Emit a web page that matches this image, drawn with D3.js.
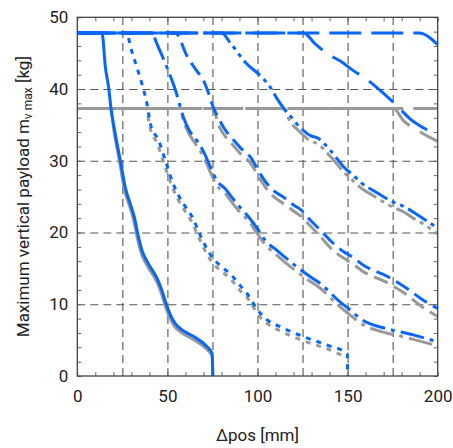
<!DOCTYPE html>
<html><head><meta charset="utf-8">
<script src="https://cdn.jsdelivr.net/npm/d3@7"></script>
<style>
html,body{margin:0;padding:0;background:#fff;}
svg{display:block;font-family:Roboto,"Noto Sans",sans-serif;}
</style></head>
<body>
<svg id="c" width="453" height="448"></svg>
<script>
// ---- data (Δpos [mm], payload [kg]) ----
const xTickLabels = [0, 50, 100, 150, 200];
const yTickLabels = [0, 10, 20, 30, 40, 50];
const xGrid = [25, 50, 75, 100, 125, 150, 175];
const yGrid = [10, 20, 30, 40];

const blueA = [[0,47.8],[13.7,47.8],[15.6,43],[17.4,40.2],[18.7,37.3],[21.1,33.7],[23.9,30],[26.7,26.2],[29.4,24],[31.7,22.1],[33.5,19.9],[35.9,17.5],[39.6,15.6],[44.3,13.6],[47,11.9],[49.4,9.95],[51.7,8.5],[54.4,7.3],[57.2,6.6],[64.6,5.5],[71.1,4.3],[74.8,3.15],[75.2,0]];
const grayA = [[0,37.3],[18.3,37.3],[20.7,33.6],[23.5,29.8],[26.3,25.8],[29,23.7],[31.3,21.7],[33.1,19.5],[35.5,17.1],[39.2,15.2],[44,13.2],[46.7,11.5],[49,9.6],[51.3,8.1],[54,6.9],[57,6.2],[64.3,5.1],[71,3.9],[74.8,2.8],[75.2,0]];

const blueB = [[0,47.8],[27.6,47.8],[29.4,46],[33.1,43],[35.9,40.7],[38.7,37.9],[40.6,35.1],[45.2,32.8],[48.9,30],[52.6,27.2],[56.3,25.1],[60,23.6],[63.7,22.2],[68.3,19.6],[72,17.7],[75.7,16.3],[80.3,15.2],[85.8,14],[90.4,12.6],[94.2,11.5],[98,10],[101.7,8.7],[106,7.7],[112.8,6.85],[125.7,5.46],[138.7,4.3],[149.8,3.1],[150,0]];
const grayB = [[0,37.3],[38.3,37.3],[40,35],[44.5,32.3],[48.3,29.5],[52,26.8],[55.7,24.7],[59.5,23.1],[63,21.7],[68,19],[71.5,17.2],[75,15.8],[80,14.6],[85.5,13.4],[90,12],[94,11],[98,9.5],[101.5,8.2],[106,7.2],[112.5,6.3],[125.5,4.9],[138.5,3.8],[149.5,2.6]];

const blueC = [[0,47.8],[41.5,47.8],[44,46.4],[49.8,43],[54.4,39.9],[59,36],[62,34.3],[66.4,32.8],[70.2,31.2],[73.9,29.1],[77.5,27.2],[82.1,26.1],[85.8,24.9],[90.4,23.5],[95,22.2],[100.6,20.3],[104.3,18.9],[110.8,17.5],[121.9,15.2],[128.3,14],[134.8,12.9],[145.9,10.3],[151.5,9.2],[157,8],[171.7,6.6],[179.4,6.15],[186.8,5.7],[200,4.75]];
const grayC = [[0,37.3],[57,37.3],[59,35.5],[62,33.8],[66,32.2],[70,30.6],[73.5,28.6],[77,26.7],[82,25.5],[85.5,24.3],[90,22.9],[95,21.6],[100,19.8],[104,18.4],[110.5,16.9],[121.5,14.6],[128,13.4],[134.5,12.3],[145.5,9.7],[151,8.6],[157,7.4],[171.5,6],[179,5.6],[186.5,5.1],[200,4.2]];

const blueD = [[0,47.8],[54.4,47.8],[60.9,44.6],[65.5,42.8],[70.2,41.1],[73,39.3],[75.7,37.3],[78.5,35.9],[81.3,34.6],[86,33.1],[90.6,31.8],[96.1,30.5],[101.7,28.1],[105,26.9],[109.1,25.8],[114.6,24.9],[120.2,23.8],[124,23.2],[129.4,21.7],[135,20.3],[142.4,18.4],[148,17.3],[152.6,16.6],[159,15.4],[171.9,13.9],[183,12.2],[190.6,10.8],[200,9.4]];
const grayD = [[0,37.3],[75.5,37.3],[78,35.2],[81,33.8],[86,32.3],[90.5,31],[96,29.7],[101.5,27.4],[105,26.1],[109,25],[114.5,24],[120,23],[124,22.3],[129.4,20.9],[135,19.4],[142,17.5],[148,16.4],[152.5,15.7],[159,14.5],[172,13],[183,11.3],[190.5,9.8],[200,8.3]];

const blueE = [[0,47.8],[80,47.8],[85,46.4],[93.3,43.7],[102.6,41.6],[107.2,40.2],[111,38.6],[114.6,37.3],[118.3,36.2],[123.9,34.6],[129.4,33.5],[133.2,33.2],[140.6,31.4],[148,29.1],[153.5,27.9],[157.2,27],[164.6,25.8],[175.7,24.2],[181.3,23.6],[186.8,22.8],[192.2,21.9],[200,20.6]];
const grayE = [[0,37.3],[114.3,37.3],[118,35.5],[123.7,34],[129.2,32.8],[133,32.4],[140.5,30.6],[148,28.4],[153.5,27.1],[157,26.3],[164.5,25.1],[175.5,23.5],[181,22.9],[186.5,22],[192,21.2],[200,19.8]];

const blueF = [[0,47.8],[125.6,47.8],[132,46.3],[139.5,44.8],[146,43.9],[153,42.6],[160.8,41.3],[166.3,40.2],[173,38.7],[179.2,37.2],[184.8,35.8],[192,34.6],[200,33.65]];
const grayF = [[0,37.3],[175.5,37.3],[181,35.6],[188.5,34.3],[200,32.7]];

const blueG = [[0,47.8],[189.6,47.8],[200,46.2]];
const grayG = [[0,37.3],[200,37.3]];

const blueSeries = [blueA, blueB, blueC, blueD, blueE, blueF, blueG];
const graySeries = [grayA, grayB, grayC, grayD, grayE, grayF, grayG];

// ---- styles ----
const dashes = [null, "5,6", "24,6,4,6", "15,7", "22,5,4,5,4,5", "32,12", "32,10"];
const BLUE = "#0866f8", GRAY = "#999999";

const svg = d3.select("#c");
const L = 77.3, R = 437.7, T = 17.3, B = 376;
const x = d3.scaleLinear().domain([0,200]).range([L,R]);
const y = d3.scaleLinear().domain([0,50]).range([B,T]);

// grid
function gridStyle(g){ g.select(".domain").remove(); g.selectAll("line").attr("stroke","#555").attr("stroke-width",1.1).attr("stroke-dasharray","8,5"); }
svg.append("g").attr("transform",`translate(0,${B})`)
  .call(d3.axisBottom(x).tickValues(xGrid).tickSize(-(B-T)).tickFormat("")).call(gridStyle);
svg.append("g").attr("transform",`translate(${L},0)`)
  .call(d3.axisLeft(y).tickValues(yGrid).tickSize(-(R-L)).tickFormat("")).call(gridStyle);

// minor ticks (inside) on all sides
const xm = d3.range(0,201,10), ym = d3.range(0,51,2);
function minor(g){ g.select(".domain").remove(); g.selectAll("line").attr("stroke","#666").attr("stroke-width",1); }
svg.append("g").attr("transform",`translate(0,${B})`).call(d3.axisBottom(x).tickValues(xm).tickSize(-4).tickFormat("")).call(minor);
svg.append("g").attr("transform",`translate(0,${T})`).call(d3.axisTop(x).tickValues(xm).tickSize(-4).tickFormat("")).call(minor);
svg.append("g").attr("transform",`translate(${L},0)`).call(d3.axisLeft(y).tickValues(ym).tickSize(-4).tickFormat("")).call(minor);
svg.append("g").attr("transform",`translate(${R},0)`).call(d3.axisRight(y).tickValues(ym).tickSize(-4).tickFormat("")).call(minor);

// lines
const line = d3.line().x(d=>x(d[0])).y(d=>y(d[1])).curve(d3.curveMonotoneX);
const plot = svg.append("g");
graySeries.forEach((s,i)=>{
  plot.append("path").attr("d",line(s)).attr("fill","none").attr("stroke",GRAY)
    .attr("stroke-width",3).attr("stroke-dasharray",dashes[i]);
});
blueSeries.forEach((s,i)=>{
  plot.append("path").attr("d",line(s)).attr("fill","none").attr("stroke",BLUE)
    .attr("stroke-width",3).attr("stroke-dasharray",dashes[i]);
});

// frame
svg.append("rect").attr("x",L).attr("y",T).attr("width",R-L).attr("height",B-T)
  .attr("fill","none").attr("stroke","#444").attr("stroke-width",1.3);

// tick labels
const ax = svg.append("g").attr("transform",`translate(0,${B})`)
  .call(d3.axisBottom(x).tickValues(xTickLabels).tickSize(0).tickPadding(13.5));
ax.select(".domain").remove();
ax.selectAll("text").attr("font-size",17).attr("fill","#222").attr("font-family","Roboto");
const ay = svg.append("g").attr("transform",`translate(${L},0)`)
  .call(d3.axisLeft(y).tickValues(yTickLabels).tickSize(0).tickPadding(9));
ay.select(".domain").remove();
ay.selectAll("text").attr("font-size",17).attr("fill","#222").attr("font-family","Roboto");

// axis titles
svg.append("text").attr("x",(L+R)/2).attr("y",441).attr("text-anchor","middle")
  .attr("font-size",17).attr("fill","#222").text("Δpos [mm]");
const yt = svg.append("text").attr("transform",`translate(29,${(T+B)/2}) rotate(-90)`)
  .attr("text-anchor","middle").attr("font-size",17).attr("fill","#222");
yt.append("tspan").text("Maximum vertical payload m");
yt.append("tspan").attr("font-size",12).attr("dy",3).text("v max");
yt.append("tspan").attr("dy",-3).text(" [kg]");
</script>
</body></html>
